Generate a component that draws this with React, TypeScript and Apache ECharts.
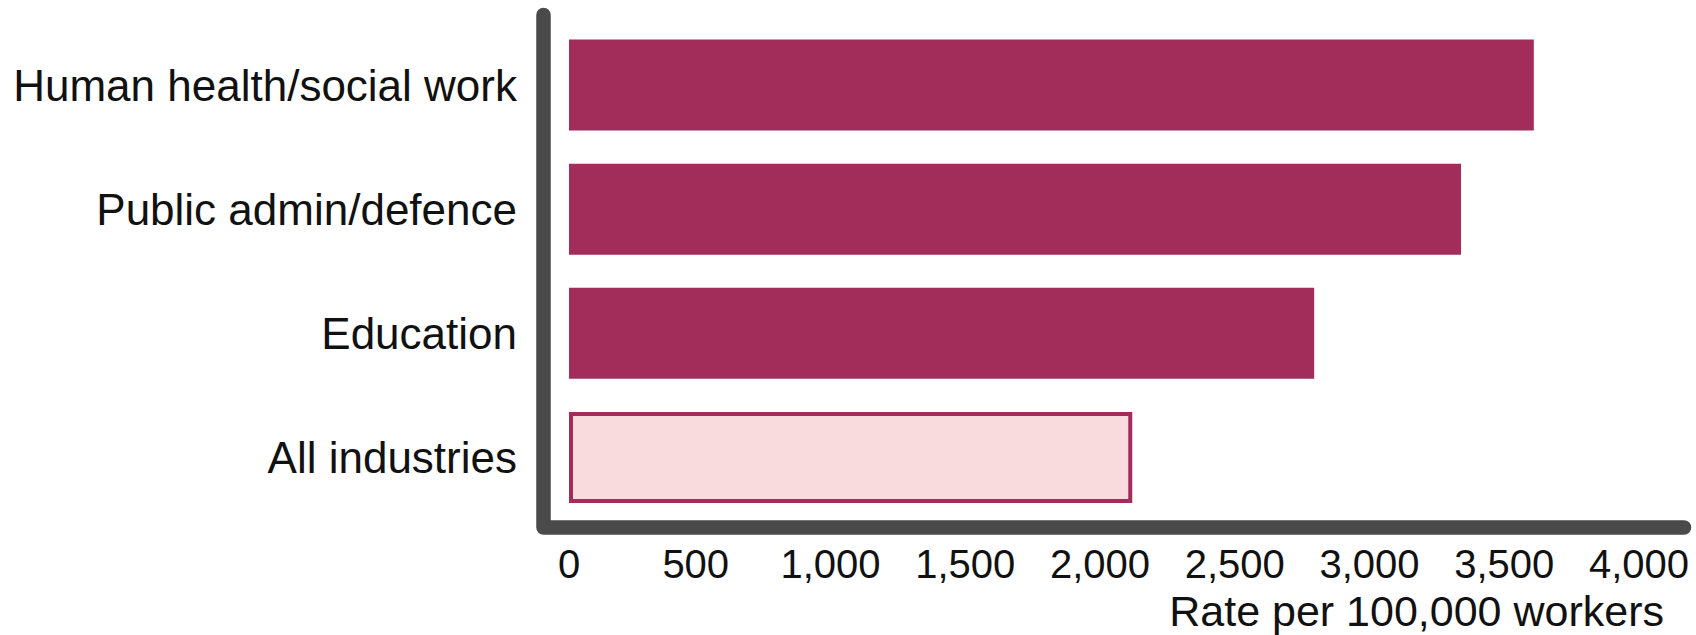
import React, { useEffect, useRef } from "react";
import * as echarts from "echarts";

const categories = [
  "Human health/social work",
  "Public admin/defence",
  "Education",
  "All industries",
];
const rates = [3580, 3310, 2765, 2090];
const highlightIndex = 3;
const tickValues = [0, 500, 1000, 1500, 2000, 2500, 3000, 3500, 4000];
const axisTitle = "Rate per 100,000 workers";

const FONT = '"Liberation Sans", Arial, Helvetica, sans-serif';
const DARK = "#A22D5A";
const LIGHT = "#F9DADD";
const AXIS = "#4A4A4A";

const fmt = (v: number) => v.toLocaleString("en-US");

export default function App() {
  const ref = useRef<HTMLDivElement>(null);

  useEffect(() => {
    document.body.style.margin = "0";
    if (!ref.current) return;
    const chart = echarts.init(ref.current, null, { renderer: "svg" });

    const gridLeft = 569;
    const gridRight = 49;
    const gridTop = 23;
    const gridBottom = 115.5;

    chart.setOption({
      animation: false,
      grid: { left: gridLeft, right: gridRight, top: gridTop, bottom: gridBottom, containLabel: false },
      xAxis: {
        type: "value",
        min: tickValues[0],
        max: tickValues[tickValues.length - 1],
        interval: tickValues[1] - tickValues[0],
        axisLine: { show: false },
        axisTick: { show: false },
        splitLine: { show: false },
        axisLabel: {
          margin: 24,
          fontSize: 40,
          fontFamily: FONT,
          color: "#111",
          formatter: (v: number) => (v === 0 ? `{z|${fmt(v)}}` : `{a|${fmt(v)}}`),
          rich: {
            a: { fontSize: 40, fontFamily: FONT, color: "#111", padding: [0, 16, 0, 0] },
            z: { fontSize: 40, fontFamily: FONT, color: "#111" },
          },
        },
        name: axisTitle,
        nameLocation: "end",
        nameGap: 17,
        nameTextStyle: {
          fontSize: 43,
          fontFamily: FONT,
          color: "#111",
          align: "right",
          verticalAlign: "top",
          padding: [70, 0, 0, 0],
        },
      },
      yAxis: {
        type: "category",
        data: categories,
        inverse: true,
        axisLine: { show: false },
        axisTick: { show: false },
        axisLabel: {
          margin: 52,
          fontSize: 44,
          fontFamily: FONT,
          color: "#111",
        },
      },
      series: [
        {
          type: "bar",
          barWidth: 91,
          data: rates.map((v, i) =>
            i === highlightIndex
              ? { value: v, itemStyle: { color: LIGHT, borderColor: DARK, borderWidth: 4 } }
              : { value: v, itemStyle: { color: DARK } }
          ),
        },
      ],
      graphic: [
        {
          type: "polyline",
          shape: {
            points: [
              [543.5, 15],
              [543.5, 527.5],
              [1684, 527.5],
            ],
          },
          style: {
            stroke: AXIS,
            lineWidth: 14.5,
            lineCap: "round",
            lineJoin: "round",
            fill: null,
          },
          z: 10,
        },
      ],
    });

    return () => chart.dispose();
  }, []);

  return <div ref={ref} style={{ width: 1696, height: 635 }} />;
}
